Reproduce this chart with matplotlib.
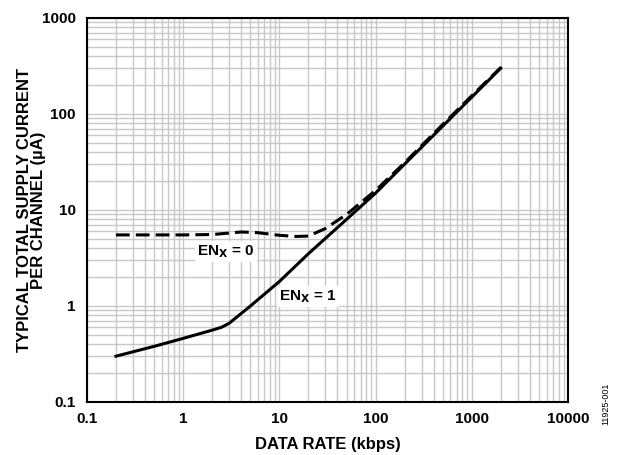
import matplotlib.pyplot as plt
import numpy as np

plt.rcParams['font.family'] = 'Liberation Sans'
plt.rcParams['font.weight'] = 'bold'

# Data
rate_en1 = [0.2, 0.5, 1, 2, 2.5, 3, 5, 10, 20, 50, 100, 200, 500, 1000, 2000]
curr_en1 = [0.3, 0.38, 0.46, 0.56, 0.6, 0.66, 1.0, 1.8, 3.5, 8.0, 15, 30, 75, 150, 300]

rate_en0 = [0.2, 0.5, 1, 2, 3, 4, 6, 10, 15, 20, 30, 50, 100, 200, 500, 1000, 2000]
curr_en0 = [5.5, 5.5, 5.5, 5.55, 5.75, 5.9, 5.8, 5.45, 5.3, 5.35, 6.4, 9.0, 16, 31, 78, 155, 305]

x_ticks = [0.1, 1, 10, 100, 1000, 10000]
y_ticks = [0.1, 1, 10, 100, 1000]

fig = plt.figure(figsize=(6.28, 4.55), dpi=100)
ax = fig.add_axes([0.1385, 0.1165, 0.766, 0.844])

ax.set_xscale('log')
ax.set_yscale('log')
ax.set_xlim(0.1, 10000)
ax.set_ylim(0.1, 1000)

ax.grid(which='major', color='#c8c8c8', linewidth=1.0, zorder=0)
ax.grid(which='minor', color='#c8c8c8', linewidth=1.0, zorder=0)
ax.set_axisbelow(True)

ax.plot(rate_en0, curr_en0, color='black', linewidth=2.2, linestyle=(0, (4.5, 2)), zorder=3)
ax.plot(rate_en1, curr_en1, color='black', linewidth=2.2, zorder=4)

ax.text(1.4, 3.4, r'EN$_\mathbf{X}$ = 0', fontsize=11, fontweight='bold', zorder=5,
        bbox=dict(fc='white', ec='none', pad=1.5))
ax.text(10, 1.15, r'EN$_\mathbf{X}$ = 1', fontsize=11, fontweight='bold', zorder=5,
        bbox=dict(fc='white', ec='none', pad=1.5))

ax.set_xticks(x_ticks)
ax.set_xticklabels([f'{t:g}' for t in x_ticks])
ax.set_yticks(y_ticks)
ax.set_yticklabels([f'{t:g}' for t in y_ticks])
ax.tick_params(which='both', length=0, labelsize=11)
ax.tick_params(axis='x', pad=7)
ax.tick_params(axis='y', pad=8)

ax.set_xlabel('DATA RATE (kbps)', fontsize=12, fontweight='bold', labelpad=8)
ax.set_ylabel('TYPICAL TOTAL SUPPLY CURRENT\nPER CHANNEL (µA)', fontsize=12,
              fontweight='bold', linespacing=0.9)
ax.yaxis.set_label_coords(-0.085, 0.5)

for s in ax.spines.values():
    s.set_linewidth(1.5)
    s.set_color('black')

fig.text(0.964, 0.065, '11925-001', rotation=90, fontsize=6.5, fontweight='normal',
         ha='center', va='bottom')

fig.savefig('out.png', dpi=100)
